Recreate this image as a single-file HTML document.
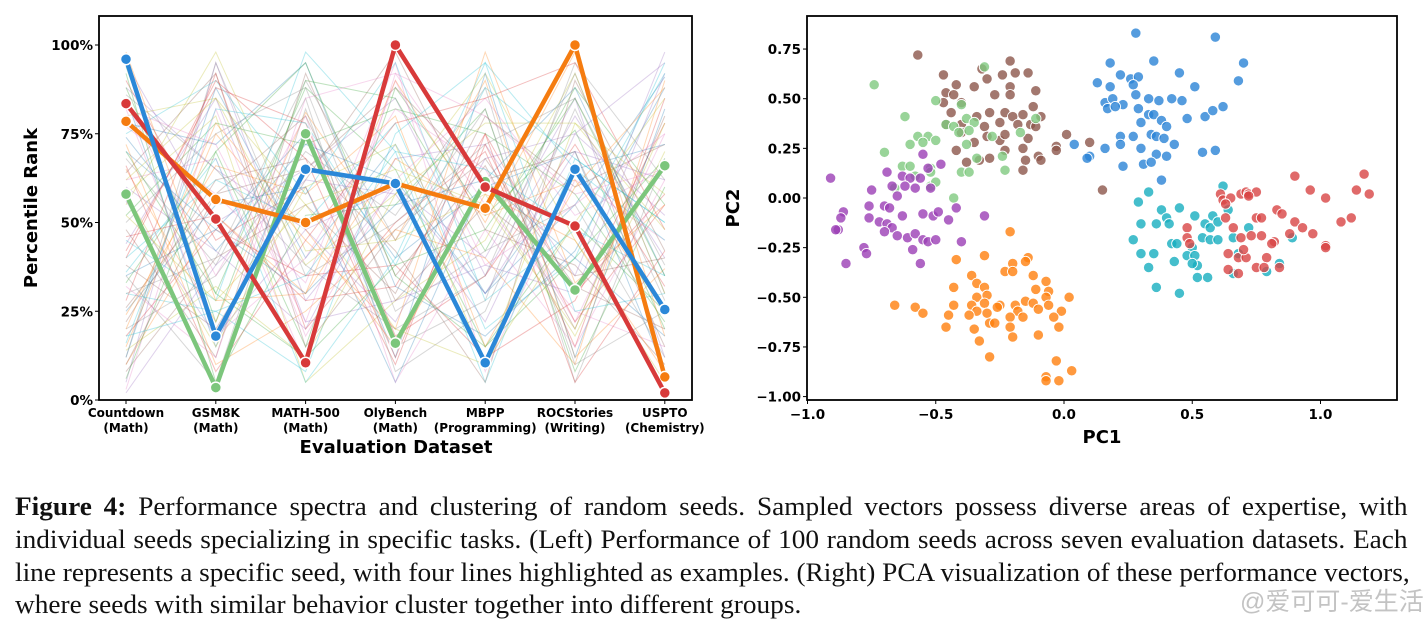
<!DOCTYPE html>
<html><head><meta charset="utf-8"><style>
body{margin:0;background:#fff;width:1423px;height:627px;overflow:hidden;position:relative;font-family:"Liberation Sans",sans-serif}
svg{position:absolute;left:0;top:0}
.cap{position:absolute;left:15px;width:1352px;transform:scaleX(1.03);transform-origin:0 0;font-family:"Liberation Serif",serif;font-size:26.5px;color:#111;white-space:nowrap;text-align:justify;text-align-last:justify;line-height:28px}
.wm{position:absolute;left:1240px;top:582px;white-space:nowrap;font-family:"Liberation Sans","Noto Sans CJK SC",sans-serif;font-size:25px;color:rgba(185,185,185,0.85)}
</style></head><body>
<svg id="chart" width="1423" height="470"></svg>
<div class="cap" style="top:492px"><b>Figure 4:</b> Performance spectra and clustering of random seeds. Sampled vectors possess diverse areas of expertise, with</div>
<div class="cap" style="top:525px">individual seeds specializing in specific tasks. (Left) Performance of 100 random seeds across seven evaluation datasets. Each</div>
<div class="cap" style="top:558px">line represents a specific seed, with four lines highlighted as examples. (Right) PCA visualization of these performance vectors,</div>
<div class="cap" style="top:590px;text-align-last:left">where seeds with similar behavior cluster together into different groups.</div>
<div class="wm">@爱可可-爱生活</div>
<script>
const categories=["Countdown\n(Math)","GSM8K\n(Math)","MATH-500\n(Math)","OlyBench\n(Math)","MBPP\n(Programming)","ROCStories\n(Writing)","USPTO\n(Chemistry)"];
const yTicks=[0,25,50,75,100];
const highlightBlue=[96,18,65,61,10.5,65,25.5];
const highlightRed=[83.5,51,10.5,100,60,49,2];
const highlightOrange=[78.5,56.5,50,61,54,100,6.5];
const highlightGreen=[58,3.5,75,16,61.5,31,66];
const seeds=[
[12,88,40,72,30,55,91],[65,22,81,45,90,12,37],[33,70,15,88,52,76,20],[90,45,60,10,75,30,58],[5,95,28,60,40,85,12],
[48,12,92,35,66,20,80],[77,58,33,95,8,62,45],[20,35,70,52,88,5,68],[58,80,5,28,45,92,30],[40,62,50,78,20,40,95],
[85,15,75,40,60,70,8],[15,75,45,20,98,33,55],[70,30,88,65,15,50,25],[28,92,20,50,70,15,85],[95,50,65,85,35,80,40],
[8,40,55,30,80,60,72],[62,68,10,92,55,25,15],[35,5,82,15,28,95,62],[80,85,38,58,92,45,5],[45,28,98,70,5,68,50],
[25,55,60,5,62,88,35],[72,10,25,48,40,10,90],[52,78,72,82,75,58,22],[18,48,35,38,12,28,78],[88,65,48,22,68,75,52],
[38,20,62,98,48,38,10],[3,82,18,62,85,52,65],[68,38,85,8,25,82,28],[55,98,42,45,58,18,70],[30,25,8,75,95,65,45],
[78,72,95,32,18,42,88],[10,52,30,90,50,98,18],[92,5,52,55,82,8,60],[42,88,78,18,35,72,32],[60,42,20,68,72,35,98],
[22,62,68,42,5,90,42],[82,18,40,82,65,22,75],[50,75,88,25,42,55,12],[14,32,12,58,78,78,58],[75,90,58,95,28,48,35],
[35,48,75,12,92,12,82],[98,28,30,68,52,62,25],[6,70,95,35,15,40,68],[66,8,45,78,85,95,48],[44,85,22,28,38,30,92],
[26,58,65,88,62,70,15],[84,35,80,5,48,15,62],[12,95,35,50,72,85,38],[58,15,60,72,10,50,85],[36,68,5,40,95,25,30],
[74,42,72,62,30,65,72],[20,78,48,15,58,45,8],[94,22,90,85,42,88,55],[46,52,28,32,75,5,42],[2,38,62,58,22,75,95],
[64,92,15,48,68,32,20],[32,12,85,92,80,58,65],[86,65,38,20,35,92,30],[52,28,55,65,55,20,78],[16,82,78,38,88,68,50],
[70,48,30,55,62,40,18],[24,66,58,80,15,60,88],[88,30,12,38,48,85,35],[40,90,68,12,72,22,55],[56,18,48,60,30,70,62],
[10,58,80,28,55,35,40],[82,72,22,90,38,55,75],[30,40,90,45,82,10,25],[62,85,55,20,10,78,48],[18,25,35,70,65,48,92]
];
const clusterBlue=[[0.28,0.83],[0.59,0.81],[0.18,0.68],[0.35,0.69],[0.70,0.68],[0.13,0.58],[0.22,0.62],[0.26,0.6],[0.29,0.61],[0.45,0.63],[0.68,0.59],[0.18,0.56],[0.27,0.57],[0.51,0.56],[0.16,0.48],[0.19,0.5],[0.23,0.47],[0.28,0.52],[0.33,0.5],[0.37,0.49],[0.42,0.5],[0.46,0.49],[0.17,0.45],[0.20,0.46],[0.29,0.45],[0.33,0.42],[0.35,0.42],[0.30,0.38],[0.38,0.39],[0.40,0.36],[0.48,0.40],[0.55,0.41],[0.58,0.44],[0.62,0.46],[0.22,0.31],[0.27,0.31],[0.34,0.32],[0.36,0.31],[0.39,0.3],[0.16,0.25],[0.22,0.27],[0.30,0.25],[0.43,0.27],[0.54,0.23],[0.59,0.24],[0.36,0.22],[0.40,0.21],[0.23,0.16],[0.31,0.17],[0.34,0.18],[0.04,0.27],[0.10,0.21],[0.09,0.2],[0.38,0.09]];
const clusterCyan=[[0.62,0.06],[0.33,0.03],[0.29,-0.02],[0.38,-0.06],[0.45,-0.05],[0.40,-0.1],[0.30,-0.13],[0.36,-0.13],[0.41,-0.13],[0.51,-0.09],[0.55,-0.13],[0.58,-0.09],[0.64,-0.06],[0.27,-0.21],[0.42,-0.23],[0.44,-0.23],[0.50,-0.25],[0.54,-0.2],[0.57,-0.21],[0.60,-0.21],[0.66,-0.2],[0.30,-0.28],[0.35,-0.28],[0.43,-0.32],[0.48,-0.29],[0.51,-0.29],[0.33,-0.35],[0.52,-0.34],[0.50,-0.33],[0.56,-0.4],[0.52,-0.4],[0.36,-0.45],[0.45,-0.48],[0.89,-0.2],[0.68,-0.28],[0.72,-0.15],[0.79,-0.37],[0.84,-0.33],[0.66,-0.38],[0.57,-0.15],[0.60,-0.12]];
const clusterRed=[[0.90,0.11],[1.17,0.12],[1.14,0.04],[1.19,0.02],[0.96,0.04],[1.02,0.0],[0.61,0.02],[0.62,-0.01],[0.65,0.0],[0.69,0.02],[0.71,0.03],[0.72,0.02],[0.75,0.03],[0.63,-0.03],[0.72,0.01],[0.83,-0.06],[0.85,-0.08],[0.75,-0.1],[0.77,-0.1],[0.63,-0.1],[0.66,-0.15],[0.90,-0.12],[0.93,-0.15],[0.88,-0.18],[0.97,-0.18],[1.08,-0.12],[1.12,-0.1],[1.02,-0.24],[1.02,-0.25],[0.48,-0.15],[0.48,-0.2],[0.49,-0.23],[0.69,-0.2],[0.73,-0.19],[0.77,-0.19],[0.82,-0.22],[0.81,-0.23],[0.64,-0.28],[0.68,-0.3],[0.71,-0.3],[0.79,-0.3],[0.64,-0.36],[0.68,-0.38],[0.75,-0.35],[0.78,-0.35],[0.84,-0.35],[0.70,-0.26]];
const clusterBrown=[[-0.57,0.72],[-0.47,0.62],[-0.32,0.65],[-0.21,0.69],[-0.24,0.62],[-0.19,0.63],[-0.14,0.63],[-0.42,0.57],[-0.35,0.56],[-0.30,0.6],[-0.21,0.56],[-0.11,0.54],[-0.46,0.53],[-0.43,0.52],[-0.27,0.52],[-0.21,0.52],[-0.47,0.48],[-0.40,0.48],[-0.12,0.46],[-0.44,0.43],[-0.34,0.41],[-0.29,0.43],[-0.23,0.43],[-0.20,0.41],[-0.16,0.42],[-0.09,0.41],[-0.46,0.37],[-0.40,0.37],[-0.31,0.36],[-0.25,0.38],[-0.18,0.37],[-0.13,0.37],[-0.11,0.36],[-0.40,0.33],[-0.30,0.31],[-0.25,0.29],[-0.35,0.28],[-0.23,0.32],[-0.14,0.3],[-0.42,0.24],[-0.23,0.24],[-0.16,0.25],[-0.03,0.26],[-0.03,0.24],[0.01,0.32],[0.10,0.28],[-0.38,0.18],[-0.33,0.19],[-0.29,0.2],[-0.15,0.19],[-0.10,0.21],[-0.09,0.19],[-0.16,0.14],[0.15,0.04]];
const clusterGreen=[[-0.74,0.57],[-0.31,0.66],[-0.50,0.49],[-0.40,0.47],[-0.46,0.37],[-0.43,0.36],[-0.38,0.40],[-0.35,0.38],[-0.41,0.33],[-0.37,0.34],[-0.38,0.27],[-0.28,0.31],[-0.17,0.33],[-0.11,0.40],[-0.57,0.31],[-0.53,0.31],[-0.50,0.29],[-0.62,0.41],[-0.60,0.27],[-0.70,0.23],[-0.55,0.28],[-0.63,0.16],[-0.60,0.16],[-0.52,0.15],[-0.52,0.13],[-0.40,0.13],[-0.37,0.13],[-0.23,0.14],[-0.24,0.21],[-0.66,0.05],[-0.52,0.06],[-0.50,0.08],[-0.43,0.0],[-0.58,0.11],[-0.34,0.2]];
const clusterPurple=[[-0.91,0.10],[-0.55,0.22],[-0.48,0.17],[-0.53,0.15],[-0.69,0.13],[-0.63,0.11],[-0.60,0.1],[-0.56,0.1],[-0.67,0.06],[-0.62,0.06],[-0.58,0.05],[-0.52,0.05],[-0.75,0.04],[-0.65,0.01],[-0.70,-0.04],[-0.76,-0.04],[-0.68,-0.05],[-0.55,-0.08],[-0.51,-0.09],[-0.49,-0.07],[-0.42,-0.05],[-0.31,-0.09],[-0.86,-0.07],[-0.87,-0.1],[-0.76,-0.1],[-0.72,-0.12],[-0.69,-0.13],[-0.63,-0.09],[-0.67,-0.15],[-0.70,-0.17],[-0.45,-0.11],[-0.88,-0.16],[-0.89,-0.16],[-0.65,-0.19],[-0.61,-0.2],[-0.58,-0.18],[-0.55,-0.21],[-0.53,-0.22],[-0.50,-0.21],[-0.40,-0.22],[-0.59,-0.26],[-0.78,-0.25],[-0.77,-0.28],[-0.85,-0.33],[-0.56,-0.33]];
const clusterOrange=[[-0.21,-0.17],[-0.31,-0.29],[-0.14,-0.3],[-0.42,-0.31],[-0.20,-0.33],[-0.15,-0.32],[-0.36,-0.39],[-0.23,-0.37],[-0.20,-0.37],[-0.12,-0.39],[-0.34,-0.43],[-0.07,-0.42],[-0.43,-0.45],[-0.31,-0.45],[-0.11,-0.46],[-0.06,-0.47],[-0.30,-0.49],[-0.34,-0.50],[-0.07,-0.5],[0.02,-0.5],[-0.15,-0.52],[-0.25,-0.54],[-0.66,-0.54],[-0.58,-0.55],[-0.43,-0.54],[-0.36,-0.54],[-0.31,-0.53],[-0.19,-0.54],[-0.12,-0.53],[-0.06,-0.54],[-0.34,-0.57],[-0.30,-0.58],[-0.26,-0.55],[-0.18,-0.57],[-0.10,-0.56],[-0.55,-0.58],[-0.45,-0.59],[-0.37,-0.59],[-0.21,-0.6],[-0.01,-0.57],[-0.16,-0.6],[-0.04,-0.6],[-0.29,-0.63],[-0.27,-0.63],[-0.21,-0.65],[-0.46,-0.65],[-0.35,-0.66],[-0.20,-0.7],[-0.10,-0.69],[-0.33,-0.72],[-0.02,-0.65],[-0.29,-0.8],[-0.03,-0.82],[0.03,-0.87],[-0.07,-0.9],[-0.07,-0.92],[-0.02,-0.92]];
const pcXTicks=[-1.0,-0.5,0.0,0.5,1.0];
const pcYTicks=[0.75,0.5,0.25,0,-0.25,-0.5,-0.75,-1.0];

const NS="http://www.w3.org/2000/svg";
const svg=document.getElementById('chart');
function mk(tag,attrs,parent){const e=document.createElementNS(NS,tag);for(const k in attrs)e.setAttribute(k,attrs[k]);(parent||svg).appendChild(e);return e;}
const tab=["#1f77b4","#ff7f0e","#2ca02c","#d62728","#9467bd","#8c564b","#e377c2","#7f7f7f","#bcbd22","#17becf"];
const L={x0:99,x1:692,y0:16,y1:400};
const catX=i=>126+i*89.8;
const pY=v=>400-v*3.55;
const gL=mk('g',{});


seeds.forEach((s,k)=>{
  const p=mk('polyline',{points:s.map((v,i)=>catX(i)+','+pY(v)).join(' '),fill:'none',stroke:tab[k%10],'stroke-width':1,opacity:0.3},gL);
  
  
});
function hl(vals,col,name){
  const p=mk('polyline',{points:vals.map((v,i)=>catX(i)+','+pY(v)).join(' '),fill:'none',stroke:col,'stroke-width':4.5,'stroke-linejoin':'round'},gL);
  
  
  vals.forEach((v,i)=>{const c=mk('circle',{cx:catX(i),cy:pY(v),r:5.5,fill:col,stroke:'#fff','stroke-width':1.5},gL);
    
    });
}
hl(highlightGreen,'#7cc67c','highlight-green');
hl(highlightOrange,'#f57c10','highlight-orange');
hl(highlightRed,'#d83a3a','highlight-red');
hl(highlightBlue,'#2b88d8','highlight-blue');
mk('rect',{x:L.x0,y:L.y0,width:L.x1-L.x0,height:L.y1-L.y0,fill:'none',stroke:'#000','stroke-width':1.8});
yTicks.forEach(t=>{mk('line',{x1:L.x0-4,x2:L.x0,y1:pY(t),y2:pY(t),stroke:'#000'});
  const tx=mk('text',{x:L.x0-6,y:pY(t)+5,'text-anchor':'end','font-size':13.5,'font-weight':'bold','font-family':'DejaVu Sans,sans-serif'});tx.textContent=t+'%';
  });
categories.forEach((c,i)=>{mk('line',{x1:catX(i),x2:catX(i),y1:400,y2:404,stroke:'#000'});
  c.split('\n').forEach((ln,j)=>{const tx=mk('text',{x:catX(i),y:417+j*15,'text-anchor':'middle','font-size':12,'font-weight':'bold','font-family':'DejaVu Sans,sans-serif'});tx.textContent=ln;
  });});
let t=mk('text',{x:396,y:453,'text-anchor':'middle','font-size':18,'font-weight':'bold','font-family':'DejaVu Sans,sans-serif'});t.textContent='Evaluation Dataset';

t=mk('text',{x:0,y:0,transform:'translate(37,208) rotate(-90)','text-anchor':'middle','font-size':18,'font-weight':'bold','font-family':'DejaVu Sans,sans-serif'});t.textContent='Percentile Rank';

const R={x0:807,x1:1397,y0:16,y1:400};
const sx=v=>1064+v*256.5;
const sy=v=>198-v*198.6;
const gR=mk('g',{});


function cl(pts,col,name){pts.forEach(p=>{const c=mk('circle',{cx:sx(p[0]),cy:sy(p[1]),r:5.2,fill:col,'fill-opacity':0.8,stroke:'#fff','stroke-width':0.9},gR);
  });}
cl(clusterBrown,'#8c564b','point-cluster-brown');
cl(clusterGreen,'#7fc97f','point-cluster-green');
cl(clusterPurple,'#9b3fb5','point-cluster-purple');
cl(clusterOrange,'#ff7f0e','point-cluster-orange');
cl(clusterBlue,'#2a83d6','point-cluster-blue');
cl(clusterCyan,'#17aebf','point-cluster-cyan');
cl(clusterRed,'#d84545','point-cluster-red');
mk('rect',{x:R.x0,y:R.y0,width:R.x1-R.x0,height:R.y1-R.y0,fill:'none',stroke:'#000','stroke-width':1.8});
pcXTicks.forEach(v=>{mk('line',{x1:sx(v),x2:sx(v),y1:400,y2:404,stroke:'#000'});
  const tx=mk('text',{x:sx(v),y:419,'text-anchor':'middle','font-size':13.5,'font-weight':'bold','font-family':'DejaVu Sans,sans-serif'});tx.textContent=(v<0?'\u2212':'')+Math.abs(v).toFixed(1);
  });
pcYTicks.forEach(v=>{mk('line',{x1:R.x0-4,x2:R.x0,y1:sy(v),y2:sy(v),stroke:'#000'});
  const tx=mk('text',{x:R.x0-6,y:sy(v)+5,'text-anchor':'end','font-size':13.5,'font-weight':'bold','font-family':'DejaVu Sans,sans-serif'});tx.textContent=(v<0?'\u2212':'')+Math.abs(v).toFixed(2);
  });
t=mk('text',{x:1102,y:443,'text-anchor':'middle','font-size':18,'font-weight':'bold','font-family':'DejaVu Sans,sans-serif'});t.textContent='PC1';

t=mk('text',{x:0,y:0,transform:'translate(739,208) rotate(-90)','text-anchor':'middle','font-size':18,'font-weight':'bold','font-family':'DejaVu Sans,sans-serif'});t.textContent='PC2';

</script>
</body></html>
